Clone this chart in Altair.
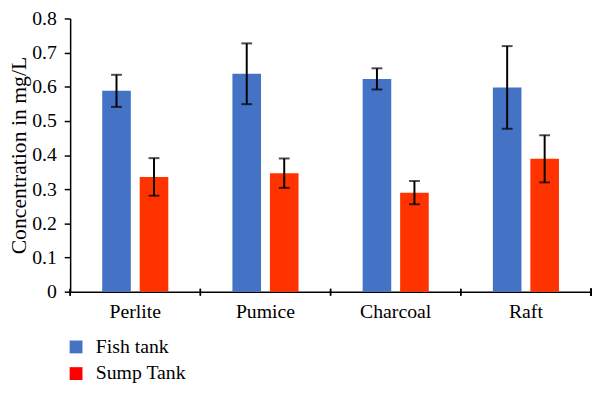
import altair as alt
import pandas as pd

categories = ["Perlite", "Pumice", "Charcoal", "Raft"]
series = ["Fish tank", "Sump Tank"]
fish_mean = [0.588, 0.638, 0.623, 0.598]
fish_err = [0.047, 0.089, 0.031, 0.121]
sump_mean = [0.336, 0.347, 0.290, 0.389]
sump_err = [0.055, 0.043, 0.034, 0.069]
bar_colors = ["#4472C4", "#FF3300"]
legend_colors = ["#4472C4", "#FF0000"]
y_ticks = [0, 0.1, 0.2, 0.3, 0.4, 0.5, 0.6, 0.7, 0.8]
y_title = "Concentration in mg/L"

rows = []
for i, c in enumerate(categories):
    rows.append({"category": c, "series": series[0], "value": fish_mean[i],
                 "lo": fish_mean[i] - fish_err[i], "hi": fish_mean[i] + fish_err[i]})
    rows.append({"category": c, "series": series[1], "value": sump_mean[i],
                 "lo": sump_mean[i] - sump_err[i], "hi": sump_mean[i] + sump_err[i]})
df = pd.DataFrame(rows)

W, H = 528, 277
FONT = "Liberation Serif"

xscale = alt.Scale(paddingInner=0, paddingOuter=0)
xoff_scale = alt.Scale(paddingInner=0.237, paddingOuter=0.855)
yscale = alt.Scale(domain=[0, 0.8], nice=False)
yaxis = alt.Axis(values=y_ticks, format="~g", labelOverlap=False, tickCount=9)
X = alt.X("category:N", sort=categories, scale=xscale, title=None)
XO = alt.XOffset("series:N", sort=series, scale=xoff_scale)


def Y(field):
    return alt.Y(field, scale=yscale, axis=yaxis, title=y_title)


base = alt.Chart(df)

bars = base.mark_bar().encode(
    x=X,
    xOffset=XO,
    y=Y("value:Q"),
    color=alt.Color("series:N", sort=series,
                    scale=alt.Scale(domain=series, range=bar_colors),
                    legend=None),
)

legend_layer = base.mark_square(size=0, opacity=1).encode(
    x=X,
    y=Y("value:Q"),
    color=alt.Color("series:N", sort=series,
                    scale=alt.Scale(domain=[s + " " for s in series], range=legend_colors),
                    legend=alt.Legend(title=None, orient="none", legendX=-4, legendY=323,
                                      symbolType="square", symbolSize=169, symbolStrokeWidth=0,
                                      symbolOpacity=1, padding=0,
                                      labelFontSize=20, labelFont=FONT, labelColor="black",
                                      labelOffset=10, rowPadding=7,
                                      labelExpr="trim(datum.label)")),
).transform_calculate(series="datum.series + ' '")

errs = base.mark_rule(color="black", strokeWidth=2).encode(
    x=X, xOffset=XO, y=Y("lo:Q"), y2="hi:Q",
)
caps_hi = base.mark_tick(color="black", thickness=2, size=11, orient="horizontal").encode(
    x=X, xOffset=XO, y=Y("hi:Q"),
)
caps_lo = base.mark_tick(color="black", thickness=2, size=11, orient="horizontal").encode(
    x=X, xOffset=XO, y=Y("lo:Q"),
)

xticks = base.mark_rule(color="black", strokeWidth=1.5).encode(
    x=alt.X("category:N", sort=categories, scale=xscale, bandPosition=0, title=None),
    y=alt.value(H - 3),
    y2=alt.value(H + 4),
)
end_tick = base.mark_rule(color="black", strokeWidth=1.5).encode(
    x=alt.value(W),
    y=alt.value(H - 3),
    y2=alt.value(H + 4),
)

chart = alt.layer(bars, legend_layer, errs, caps_hi, caps_lo, xticks, end_tick).resolve_scale(
    color="independent"
).properties(
    width=W, height=H,
    autosize=alt.AutoSizeParams(type="none"),
    padding={"left": 63, "top": 8, "right": 1, "bottom": 92},
).configure_view(stroke=None).configure_axis(
    grid=False, domainColor="black", domainWidth=1.5,
    labelFont=FONT, labelColor="black", titleFont=FONT, titleColor="black",
    titleFontWeight="normal", labelOverlap=False,
).configure_axisX(
    ticks=False, tickSize=0, labelAngle=0, labelPadding=10, labelFontSize=20,
).configure_axisY(
    tickColor="black", tickSize=6, tickWidth=1.5, labelPadding=8, labelFontSize=20,
    labelFont=FONT, titleFontSize=22, titlePadding=1,
)

chart.save("out.html", embed_options={"renderer": "svg", "actions": False})
